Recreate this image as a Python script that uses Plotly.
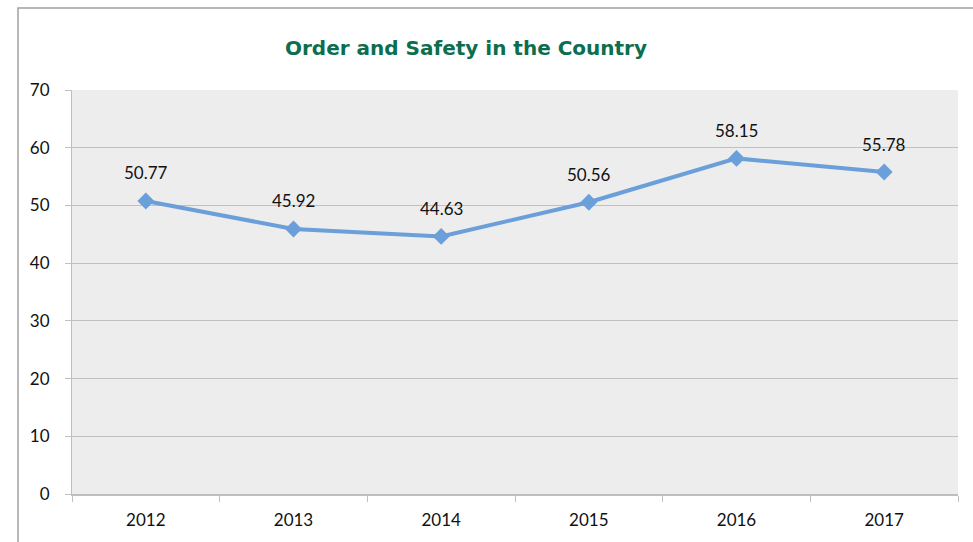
import plotly.graph_objects as go

years = ["2012", "2013", "2014", "2015", "2016", "2017"]
values = [50.77, 45.92, 44.63, 50.56, 58.15, 55.78]
labels = ["50.77", "45.92", "44.63", "50.56", "58.15", "55.78"]
y_ticks = [0, 10, 20, 30, 40, 50, 60, 70]

W, H = 973, 542
L, R, T, B = 72, 15, 90, 48
pw, ph = W - L - R, H - T - B

fig = go.Figure()
fig.add_trace(go.Scatter(
    x=years, y=values, mode="lines+markers",
    line=dict(color="#6a9fd9", width=4),
    marker=dict(symbol="diamond", size=13, color="#6a9fd9"),
    hoverinfo="x+y", showlegend=False,
))

for i, (y, t) in enumerate(zip(values, labels)):
    fig.add_annotation(x=i, y=y, xref="x", yref="y", text=t, showarrow=False, yshift=28,
                       font=dict(family="Lato, Open Sans, sans-serif", size=17, color="#111111"))

# outer chart border
fig.add_shape(type="rect", xref="paper", yref="paper",
              x0=(18 - L) / pw, x1=1.2, y0=-0.3, y1=1 + (T - 8) / ph,
              line=dict(color="#a0a0a0", width=1.5), fillcolor="rgba(0,0,0,0)", layer="below")

fig.update_layout(
    width=W, height=H,
    margin=dict(l=L, r=R, t=T, b=B),
    paper_bgcolor="white", plot_bgcolor="#ededed",
    title=dict(text="<b>Order and Safety in the Country</b>", x=466 / W, xref="container",
               xanchor="center", y=1 - 48 / H, yref="container", yanchor="middle",
               font=dict(family="DejaVu Sans, sans-serif", size=20, color="#0b6e4f")),
    font=dict(family="Lato, Open Sans, sans-serif", size=17, color="#111111"),
)
fig.update_xaxes(
    type="category", range=[-0.5, 5.5], tickson="boundaries", ticks="outside",
    ticklen=6, tickcolor="#bfbfbf", showgrid=False, showline=True, linecolor="#bfbfbf",
    linewidth=2, zeroline=False, tickfont=dict(size=17), ticklabelstandoff=10,
)
fig.update_yaxes(
    range=[0, 70], tickvals=y_ticks, ticks="outside", ticklen=6, tickcolor="#bfbfbf",
    showgrid=True, gridcolor="#c0c0c0", gridwidth=1, showline=True, linecolor="#bfbfbf",
    zeroline=False, tickfont=dict(size=17), ticklabelstandoff=12,
)

fig.write_html("out.html", config={"displayModeBar": False},
               post_script="document.body.style.margin='0';")
